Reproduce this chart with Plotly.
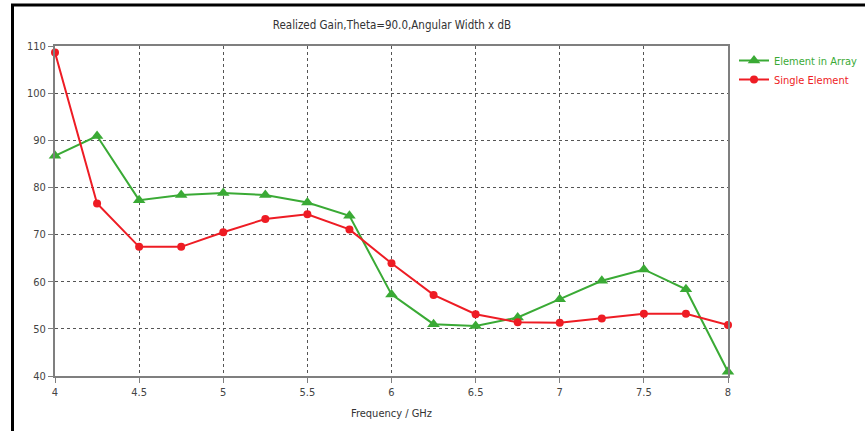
import plotly.graph_objects as go

freq = [4.0, 4.25, 4.5, 4.75, 5.0, 5.25, 5.5, 5.75, 6.0, 6.25, 6.5, 6.75, 7.0, 7.25, 7.5, 7.75, 8.0]
element_in_array = [86.7, 90.9, 77.3, 78.4, 78.8, 78.4, 76.8, 74.0, 57.3, 51.0, 50.6, 52.4, 56.3, 60.2, 62.6, 58.4, 40.9]
single_element = [108.6, 76.6, 67.4, 67.4, 70.5, 73.3, 74.3, 71.1, 63.9, 57.2, 53.1, 51.4, 51.3, 52.2, 53.2, 53.2, 50.8]
x_ticks = [4, 4.5, 5, 5.5, 6, 6.5, 7, 7.5, 8]
y_ticks = [40, 50, 60, 70, 80, 90, 100, 110]

GREEN = "#3aaa35"
RED = "#ee1c24"
FONT = "DejaVu Sans Condensed, Liberation Sans, sans-serif"

fig = go.Figure()
fig.add_trace(go.Scatter(
    x=freq, y=element_in_array, mode="lines+markers",
    name="<span style='color:#3aaa35'>Element in Array</span>",
    line=dict(color=GREEN, width=2),
    marker=dict(symbol="triangle-up", size=11, color=GREEN),
    cliponaxis=False,
))
fig.add_trace(go.Scatter(
    x=freq, y=single_element, mode="lines+markers",
    name="<span style='color:#ee1c24'>Single Element</span>",
    line=dict(color=RED, width=2),
    marker=dict(symbol="circle", size=8, color=RED),
    cliponaxis=False,
))

fig.update_layout(
    width=865, height=431,
    margin=dict(l=55, r=137, t=46, b=55, autoexpand=False),
    paper_bgcolor="white", plot_bgcolor="white",
    font=dict(family=FONT, size=11, color="#444444"),
    title=dict(text="Realized Gain,Theta=90.0,Angular Width x dB",
               x=392 / 865, xanchor="center", y=1 - 25 / 431, yanchor="middle",
               font=dict(size=11.5, color="#333333", family=FONT)),
    showlegend=True,
    legend=dict(xref="container", yref="container", x=734 / 865, y=1 - 46 / 431,
                xanchor="left", yanchor="top",
                bgcolor="rgba(0,0,0,0)", font=dict(size=11, family=FONT),
                tracegroupgap=0, itemwidth=30),
    xaxis=dict(range=[4, 8], tickvals=x_ticks, ticktext=[str(v) for v in x_ticks],
               showgrid=True, gridcolor="#555555", griddash="dot", gridwidth=1,
               showline=True, linecolor="#7f7f7f", linewidth=2, mirror=True,
               ticks="outside", ticklen=5, tickcolor="#7f7f7f", zeroline=False,
               title=dict(text="Frequency / GHz", standoff=11, font=dict(size=11, color="#333333"))),
    yaxis=dict(range=[40, 110], tickvals=y_ticks,
               showgrid=True, gridcolor="#555555", griddash="dot", gridwidth=1,
               showline=True, linecolor="#7f7f7f", linewidth=2, mirror=True,
               ticks="outside", ticklen=5, tickcolor="#7f7f7f", zeroline=False),
    shapes=[dict(type="rect", xref="paper", yref="paper",
                 x0=(12.5 - 55) / 673, x1=1.3, y0=-0.3, y1=1 + (46 - 5) / 330,
                 line=dict(color="black", width=3), fillcolor="rgba(0,0,0,0)", layer="above")],
)

fig.write_html("out.html", config={"displayModeBar": False},
               post_script="document.body.style.margin='0';document.body.style.overflow='hidden';")
